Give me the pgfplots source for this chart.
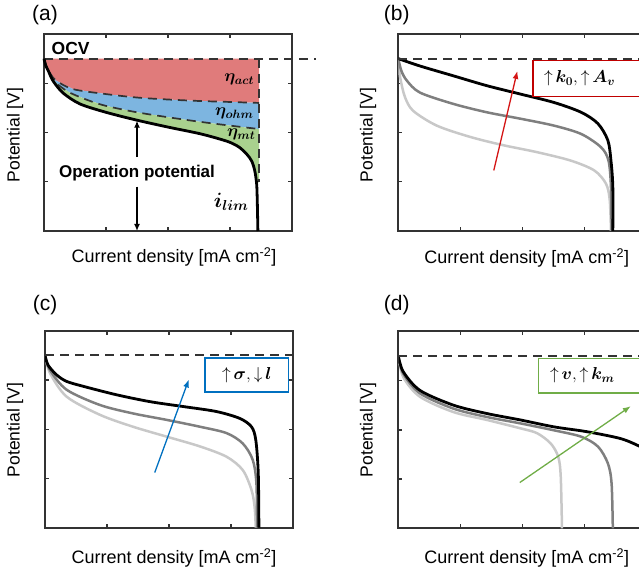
\documentclass[border=0pt]{standalone}
\usepackage{pgfplots}
\pgfplotsset{compat=1.18}
\usepackage{amsmath}
\usepackage{bm}
\usepackage{fontspec}
\setmainfont{Liberation Sans}
\usetikzlibrary{arrows.meta}
\definecolor{axgray}{HTML}{333333}
\definecolor{fillred}{HTML}{E07B7B}
\definecolor{fillblue}{HTML}{7DB5E0}
\definecolor{fillgreen}{HTML}{A9D18E}
\definecolor{boxred}{HTML}{C00000}
\definecolor{arrred}{HTML}{D41515}
\definecolor{boxblue}{HTML}{0070C0}
\definecolor{boxgreen}{HTML}{70AD47}
\definecolor{dgray}{HTML}{7F7F7F}
\definecolor{lgray}{HTML}{C8C8C8}
\pgfplotsset{
  panel/.style={
    scale only axis, width=248pt, height=197pt,
    xmin=0,xmax=4,ymin=0,ymax=4,
    xtick={1,2,3}, ytick={1,2,3},
    xticklabels={,,}, yticklabels={,,},
    tick align=inside, major tick length=4pt,
    every axis/.append style={line width=2pt, draw=axgray},
    axis line style={draw=axgray, line width=2pt},
    major tick style={draw=axgray, line width=1.4pt},
    anchor=south west,
  },
  ocv/.style={draw=axgray, line width=2pt, dash pattern=on 9pt off 6pt},
  cblack/.style={draw=black, line width=2.8pt, smooth, tension=0.5, no marks},
  cdark/.style={draw=dgray, line width=2.5pt, smooth, tension=0.5, no marks},
  clight/.style={draw=lgray, line width=2.5pt, smooth, tension=0.5, no marks},
}
\newcommand{\lab}{\fontsize{18}{22}\selectfont}
\newcommand{\ylab}{\fontsize{17.5}{21}\selectfont}
\newcommand{\pan}{\fontsize{21}{25}\selectfont}
\newcommand{\mth}{\fontsize{17.5}{20}\selectfont}
\begin{document}
\begin{tikzpicture}
\useasboundingbox (0pt,0pt) rectangle (639pt,574pt);
\clip (0pt,0pt) rectangle (639pt,574pt);

% ---------------- (a)
\begin{axis}[panel, at={(44pt,343pt)}, clip=false]
\addplot[fill=fillred, draw=none] coordinates {(0,3.5) (3.47,3.5) (3.47,2.60) (3.0,2.62) (2.5,2.64) (2.0,2.67) (1.5,2.71) (1.0,2.78) (0.47,2.88) (0.2,3.05) (0.1,3.2) (0.04,3.35) (0,3.5)} -- cycle;
\addplot[fill=fillblue, draw=none] coordinates {(0,3.5) (0.04,3.35) (0.1,3.2) (0.2,3.05) (0.47,2.88) (1.0,2.78) (1.5,2.71) (2.0,2.67) (2.5,2.64) (3.0,2.62) (3.47,2.60) (3.47,2.07) (3.0,2.14) (2.5,2.22) (2.0,2.31) (1.5,2.41) (1.0,2.54) (0.7,2.66) (0.4,2.82) (0.2,3.0) (0.1,3.17) (0.04,3.33) (0,3.5)} -- cycle;
\addplot[fill=fillgreen, draw=none] coordinates {(0,3.5) (0.04,3.33) (0.1,3.17) (0.2,3.0) (0.4,2.82) (0.7,2.66) (1.0,2.54) (1.5,2.41) (2.0,2.31) (2.5,2.22) (3.0,2.14) (3.47,2.07) (3.47,1.0) (3.43,0.95) (3.40,1.22) (3.35,1.42) (3.27,1.56) (3.15,1.70) (3.0,1.80) (2.8,1.88) (2.5,1.98) (2.0,2.11) (1.5,2.25) (1.0,2.41) (0.58,2.58) (0.31,2.80) (0.15,3.04) (0.07,3.25) (0.03,3.35) (0,3.5)} -- cycle;
\addplot[ocv, line width=1.7pt, smooth, tension=0.5] coordinates {(0,3.5) (0.04,3.35) (0.1,3.2) (0.2,3.05) (0.47,2.88) (1.0,2.78) (1.5,2.71) (2.0,2.67) (2.5,2.64) (3.0,2.62) (3.47,2.60)};
\addplot[ocv, line width=1.7pt, smooth, tension=0.5] coordinates {(0,3.5) (0.04,3.33) (0.1,3.17) (0.2,3.0) (0.4,2.82) (0.7,2.66) (1.0,2.54) (1.5,2.41) (2.0,2.31) (2.5,2.22) (3.0,2.14) (3.47,2.07)};
\addplot[ocv, line width=1.7pt] coordinates {(3.47,3.5) (3.47,1.0)};
\addplot[ocv] coordinates {(0,3.5) (4.38,3.5)};
\addplot[cblack] coordinates {(0,3.5) (0.03,3.35) (0.07,3.25) (0.15,3.04) (0.31,2.80) (0.58,2.58) (1.0,2.41) (1.5,2.25) (2.0,2.11) (2.5,1.98) (2.8,1.88) (3.0,1.80) (3.15,1.70) (3.27,1.56) (3.35,1.42) (3.40,1.22) (3.43,0.95) (3.44,0.6) (3.45,0)};
\draw[black, line width=1.3pt, -{Latex[length=7pt,width=6pt]}] (axis cs:1.5,1.50) -- (axis cs:1.5,2.24);
\draw[black, line width=1.3pt, -{Latex[length=7pt,width=6pt]}] (axis cs:1.5,0.90) -- (axis cs:1.5,0.0);
\node[font=\bfseries\fontsize{17}{20}\selectfont] at (axis cs:1.5,1.18) {Operation potential};
\node[font=\bfseries\fontsize{17.5}{20}\selectfont] at (axis cs:0.43,3.71) {OCV};
\node[font=\mth] at (axis cs:3.15,3.08) {$\bm{\eta_{act}}$};
\node[font=\mth] at (axis cs:3.07,2.39) {$\bm{\eta_{ohm}}$};
\node[font=\mth] at (axis cs:3.18,1.96) {$\bm{\eta_{mt}}$};
\node[font=\fontsize{20}{24}\selectfont] at (axis cs:3.02,0.59) {$\bm{i_{lim}}$};
\end{axis}

% ---------------- (b)
\begin{axis}[panel, at={(398.3pt,343pt)}]
\addplot[clight] coordinates {(0,3.5) (0.01,3.3) (0.04,3.05) (0.11,2.71) (0.24,2.44) (0.62,2.14) (1.16,1.91) (1.70,1.74) (2.24,1.60) (2.78,1.43) (3.16,1.23) (3.35,0.96) (3.41,0.63) (3.43,0)};
\addplot[cdark] coordinates {(0,3.5) (0.05,3.25) (0.14,3.05) (0.35,2.81) (0.89,2.58) (1.43,2.41) (1.97,2.28) (2.51,2.14) (2.95,1.97) (3.27,1.70) (3.39,1.43) (3.43,0.90) (3.44,0)};
\addplot[cblack] coordinates {(0,3.5) (0.35,3.35) (0.89,3.15) (1.43,2.95) (1.97,2.78) (2.51,2.61) (2.95,2.41) (3.22,2.18) (3.38,1.84) (3.43,1.43) (3.46,0.90) (3.46,0)};
\draw[arrred, line width=1.3pt, -{Latex[length=8pt,width=6pt]}] (axis cs:1.54,1.23) -- (axis cs:1.92,3.25);
\draw[boxred, line width=1.5pt, fill=white] (axis cs:2.17,3.46) rectangle (axis cs:4.1,2.73);
\node[anchor=west, font=\mth] at (axis cs:2.28,3.095) {${\uparrow}\,\bm{k_0},{\uparrow}\,\bm{A_v}$};
\addplot[ocv] coordinates {(0,3.5) (4,3.5)};
\end{axis}

% ---------------- (c)
\begin{axis}[panel, at={(45pt,46.3pt)}]
\addplot[clight] coordinates {(0,3.5) (0.08,3.14) (0.35,2.66) (0.89,2.29) (1.42,2.05) (1.96,1.85) (2.50,1.65) (2.93,1.44) (3.19,1.17) (3.33,0.77) (3.38,0.43) (3.40,0)};
\addplot[cdark] coordinates {(0,3.5) (0.08,3.20) (0.35,2.80) (0.89,2.49) (1.42,2.32) (1.96,2.19) (2.50,2.05) (2.93,1.92) (3.19,1.71) (3.35,1.38) (3.41,0.90) (3.42,0)};
\addplot[cblack] coordinates {(0,3.5) (0.05,3.30) (0.19,3.10) (0.35,2.97) (0.62,2.87) (1.15,2.70) (1.69,2.56) (2.23,2.46) (2.76,2.36) (3.14,2.22) (3.33,2.05) (3.40,1.78) (3.44,1.10) (3.45,0)};
\draw[boxblue, line width=1.3pt, -{Latex[length=8pt,width=6pt]}] (axis cs:1.77,1.12) -- (axis cs:2.32,3.01);
\draw[boxblue, line width=1.5pt, fill=white] (axis cs:2.58,3.45) rectangle (axis cs:3.93,2.76);
\node[font=\mth] at (axis cs:3.255,3.105) {${\uparrow}\,\bm{\sigma},{\downarrow}\,\bm{l}$};
\addplot[ocv] coordinates {(0,3.5) (4,3.5)};
\end{axis}

% ---------------- (d)
\begin{axis}[panel, at={(398.3pt,45.7pt)}]
\addplot[clight] coordinates {(0,3.5) (0.08,3.07) (0.35,2.67) (0.89,2.36) (1.43,2.20) (1.97,2.03) (2.24,1.93) (2.46,1.72) (2.58,1.45) (2.62,1.05) (2.64,0)};
\addplot[cdark] coordinates {(0,3.5) (0.08,3.14) (0.35,2.74) (0.89,2.43) (1.43,2.26) (1.97,2.13) (2.51,1.99) (2.95,1.86) (3.22,1.66) (3.38,1.32) (3.44,0.91) (3.46,0)};
\addplot[cblack] coordinates {(0,3.5) (0.08,3.18) (0.35,2.80) (0.89,2.50) (1.43,2.33) (1.97,2.20) (2.51,2.06) (3.05,1.96) (3.59,1.82) (3.90,1.66) (4.0,1.58)};
\draw[boxgreen, line width=1.3pt, -{Latex[length=8pt,width=6pt]}] (axis cs:1.96,0.93) -- (axis cs:3.75,2.48);
\draw[boxgreen, line width=1.5pt, fill=white] (axis cs:2.26,3.45) rectangle (axis cs:4.1,2.75);
\node[anchor=west, font=\mth] at (axis cs:2.38,3.10) {${\uparrow}\,\bm{v},{\uparrow}\,\bm{k_m}$};
\addplot[ocv] coordinates {(0,3.5) (4,3.5)};
\end{axis}

% ---------------- labels
\node[font=\pan] at (45pt,559pt) {(a)};
\node[font=\pan] at (396.7pt,559pt) {(b)};
\node[font=\pan] at (45pt,269pt) {(c)};
\node[font=\pan] at (396.7pt,269pt) {(d)};
\node[rotate=90, font=\ylab] at (15pt,439pt) {Potential [V]};
\node[rotate=90, font=\ylab] at (368pt,439pt) {Potential [V]};
\node[rotate=90, font=\ylab] at (15pt,144pt) {Potential [V]};
\node[rotate=90, font=\ylab] at (368pt,144pt) {Potential [V]};
\node[font=\lab] at (174pt,317pt) {Current density [mA cm\textsuperscript{-2}]};
\node[font=\lab] at (526.7pt,316pt) {Current density [mA cm\textsuperscript{-2}]};
\node[font=\lab] at (174pt,16pt) {Current density [mA cm\textsuperscript{-2}]};
\node[font=\lab] at (526.7pt,16pt) {Current density [mA cm\textsuperscript{-2}]};
\end{tikzpicture}
\end{document}
